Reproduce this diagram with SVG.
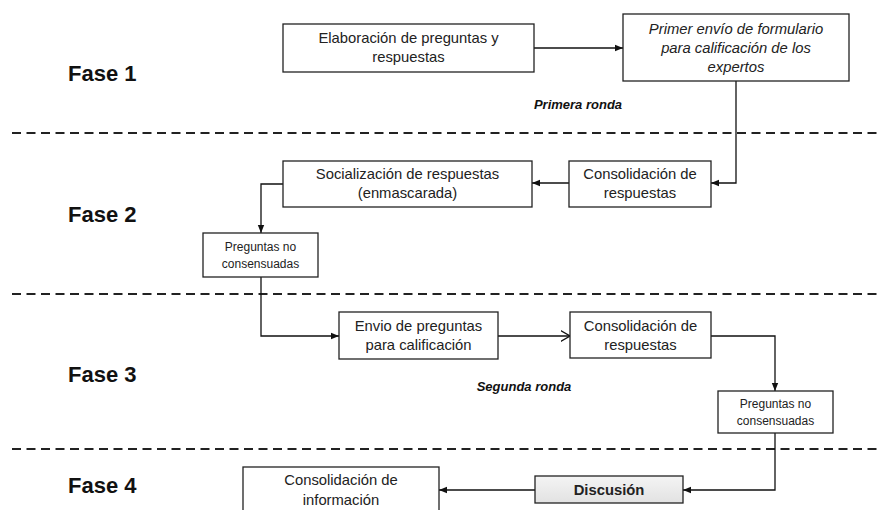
<svg xmlns="http://www.w3.org/2000/svg" width="880" height="510" viewBox="0 0 880 510">
<defs>
<marker id="arr" viewBox="0 0 8 8" refX="8" refY="4" markerWidth="8" markerHeight="8" markerUnits="userSpaceOnUse" orient="auto">
<path d="M0,0.8 L8,4 L0,7.2 Z" fill="#111"/>
</marker>
<marker id="open" viewBox="0 0 10 12" refX="9.5" refY="6" markerWidth="10" markerHeight="12" markerUnits="userSpaceOnUse" orient="auto">
<path d="M0,0.5 L9.5,6 L0,11.5" fill="none" stroke="#111" stroke-width="1.3"/>
</marker>
<linearGradient id="gray" x1="0" y1="0" x2="0" y2="1">
<stop offset="0" stop-color="#f4f4f4"/>
<stop offset="1" stop-color="#e2e2e2"/>
</linearGradient>
</defs>
<style>
.box{fill:#fff;stroke:#222;stroke-width:1.3}
.t{font-family:"Liberation Sans",Arial,sans-serif;font-size:14.8px;fill:#222;text-anchor:middle}
.s{font-size:12px}
.i{font-style:italic}
.b{font-weight:bold}
.fase{font-family:"Liberation Sans",Arial,sans-serif;font-size:22px;font-weight:bold;fill:#111}
.ronda{font-family:"Liberation Sans",Arial,sans-serif;font-size:13px;font-weight:bold;font-style:italic;fill:#111;text-anchor:middle}
.dash{stroke:#222;stroke-width:1.8;stroke-dasharray:9 5.5;fill:none}
.c{fill:none;stroke:#111;stroke-width:1.3}
</style>
<rect width="880" height="510" fill="#fff"/>
<g id="separators">
<line class="dash" x1="12" y1="133" x2="880" y2="133"/>
<line class="dash" x1="12" y1="294" x2="880" y2="294"/>
<line class="dash" x1="12" y1="449" x2="880" y2="449"/>
</g>
<g id="phase-labels">
<text class="fase" x="68" y="81">Fase 1</text>
<text class="fase" x="68" y="222">Fase 2</text>
<text class="fase" x="68" y="382">Fase 3</text>
<text class="fase" x="68" y="493">Fase 4</text>
<text class="ronda" x="578" y="109">Primera ronda</text>
<text class="ronda" x="524" y="391">Segunda ronda</text>
</g>
<g id="connectors">
<path class="c" d="M534,48 H623" marker-end="url(#arr)"/>
<path class="c" d="M736,81 V183 H711" marker-end="url(#arr)"/>
<path class="c" d="M569,183 H532" marker-end="url(#arr)"/>
<path class="c" d="M283,184 H261 V233" marker-end="url(#arr)"/>
<path class="c" d="M261,277 V336 H339" marker-end="url(#arr)"/>
<path class="c" d="M498,336 H570" marker-end="url(#open)"/>
<path class="c" d="M711,336 H775 V391" marker-end="url(#arr)"/>
<path class="c" d="M775,433 V490 H683" marker-end="url(#arr)"/>
<path class="c" d="M535,490 H439" marker-end="url(#arr)"/>
</g>
<g id="n1">
<rect class="box" x="283" y="24" width="251" height="48"/>
<text class="t" x="408.5" y="43">Elaboración de preguntas y</text>
<text class="t" x="408.5" y="62">respuestas</text>
</g>
<g id="n2">
<rect class="box" x="623" y="14" width="226" height="67"/>
<text class="t i" x="736" y="34">Primer envío de formulario</text>
<text class="t i" x="736" y="53">para calificación de los</text>
<text class="t i" x="736" y="72">expertos</text>
</g>
<g id="n3">
<rect class="box" x="569" y="161" width="142" height="46"/>
<text class="t" x="640" y="179">Consolidación de</text>
<text class="t" x="640" y="198">respuestas</text>
</g>
<g id="n4">
<rect class="box" x="283" y="161" width="249" height="46"/>
<text class="t" x="407.5" y="179">Socialización de respuestas</text>
<text class="t" x="407.5" y="198">(enmascarada)</text>
</g>
<g id="n5">
<rect class="box" x="203" y="233" width="115" height="44"/>
<text class="t s" x="260.5" y="251">Preguntas no</text>
<text class="t s" x="260.5" y="268">consensuadas</text>
</g>
<g id="n6">
<rect class="box" x="339" y="312" width="159" height="47"/>
<text class="t" x="418.5" y="331">Envio de preguntas</text>
<text class="t" x="418.5" y="350">para calificación</text>
</g>
<g id="n7">
<rect class="box" x="570" y="312" width="141" height="46"/>
<text class="t" x="640.5" y="331">Consolidación de</text>
<text class="t" x="640.5" y="350">respuestas</text>
</g>
<g id="n8">
<rect class="box" x="718" y="391" width="115" height="42"/>
<text class="t s" x="775.5" y="408">Preguntas no</text>
<text class="t s" x="775.5" y="425">consensuadas</text>
</g>
<g id="n9">
<rect class="box" x="535" y="476" width="148" height="27" style="fill:url(#gray)"/>
<text class="t b" x="609" y="495">Discusión</text>
</g>
<g id="n10">
<rect class="box" x="243" y="467" width="196" height="60"/>
<text class="t" x="341" y="485">Consolidación de</text>
<text class="t" x="341" y="505">información</text>
</g>
</svg>
